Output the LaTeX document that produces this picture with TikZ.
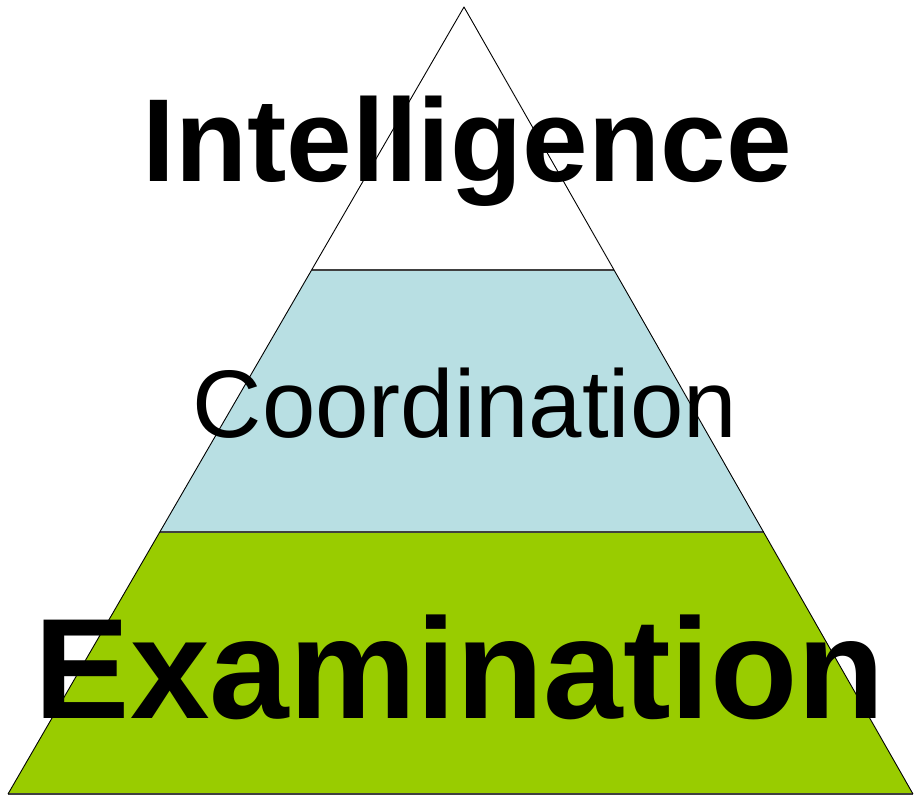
\documentclass[tikz,border=0pt]{standalone}
\usepackage{fontspec}
\setmainfont{Liberation Sans}
\usetikzlibrary{calc}
\definecolor{coordblue}{HTML}{B8DFE3}
\definecolor{examgreen}{HTML}{99CC00}
\tikzset{
  layer/.style={draw=black!75, line width=2pt},
  label/.style={anchor=base, inner sep=0pt}
}
\begin{document}
\begin{tikzpicture}[x=1pt,y=-1pt,line join=round]
  \useasboundingbox (0,0) rectangle (914,797);
  % corner points of the pyramid
  \coordinate (apex) at (464,7);
  \coordinate (bl) at (8,794);
  \coordinate (br) at (913,794);
  \coordinate (ml) at ($(apex)!0.3336!(bl)$);
  \coordinate (mr) at ($(apex)!0.3336!(br)$);
  \coordinate (ll) at ($(apex)!0.6675!(bl)$);
  \coordinate (lr) at ($(apex)!0.6675!(br)$);

  \fill[examgreen] (ll) -- (lr) -- (br) -- (bl) -- cycle;
  \fill[coordblue] (ml) -- (mr) -- (lr) -- (ll) -- cycle;
  \draw[layer] (ml) -- (mr);
  \draw[layer] (ll) -- (lr);
  \draw[layer] (bl) -- (br);
  \draw[line width=0.9pt] (bl) -- (apex) -- (br);

  \node[label, font=\bfseries\fontsize{118}{118}\selectfont] (intel) at (467,182) {Intelligence};
  \node[label, font=\fontsize{96}{96}\selectfont] (coord) at (465,437) {Coordination};
  \node[label, font=\bfseries\fontsize{143}{143}\selectfont] (exam) at (460,718) {Examination};
\end{tikzpicture}
\end{document}
